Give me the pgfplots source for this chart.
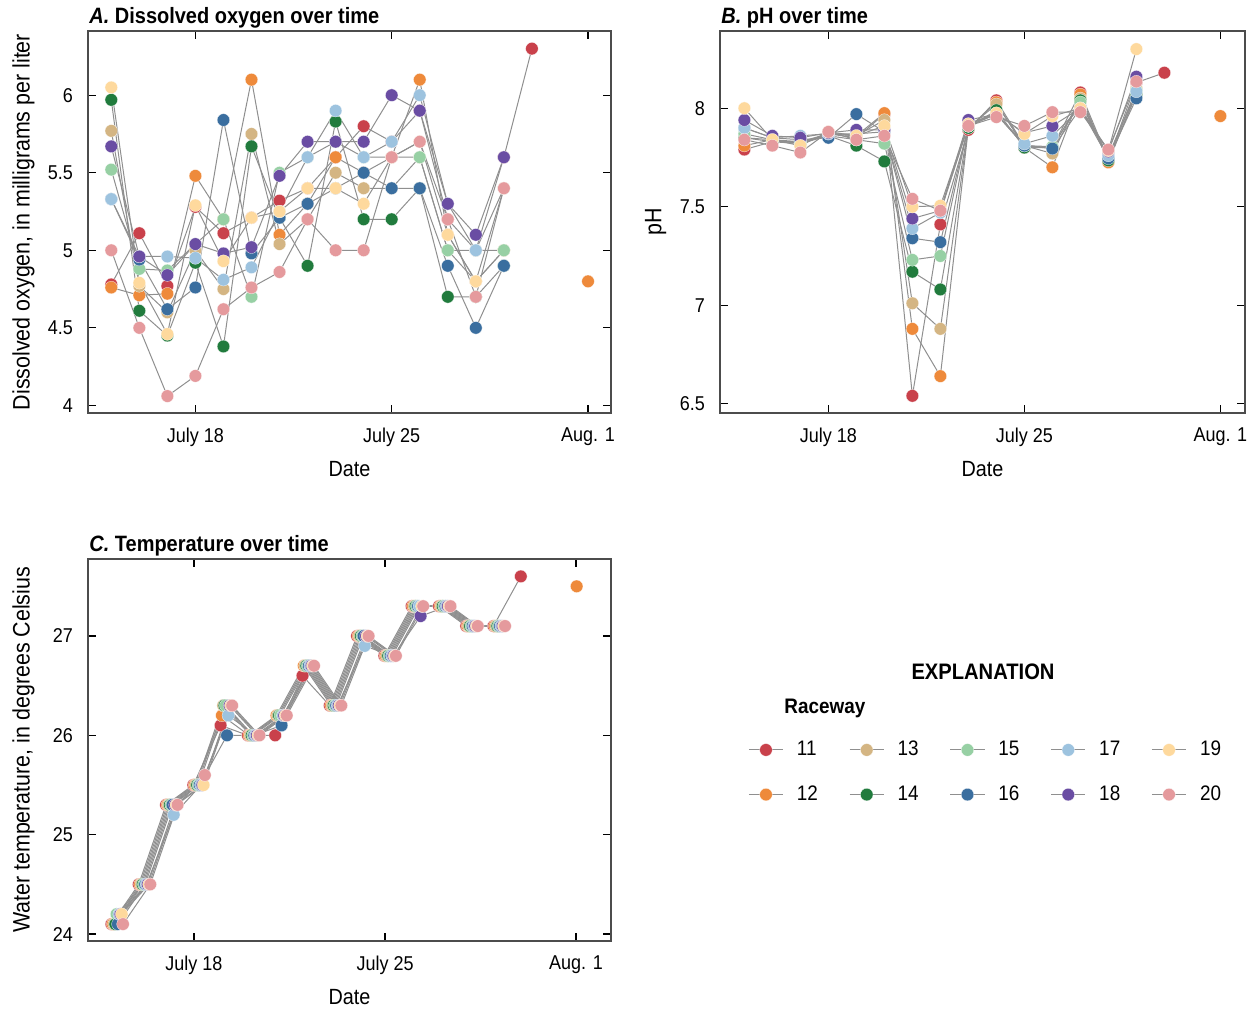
\documentclass[border=0pt]{standalone}
\usepackage{fontspec}
\setmainfont{Liberation Sans}[FakeStretch=0.9]
\usepackage{pgfplots}
\usepackage{pgfplotstable}
\pgfplotsset{compat=1.18}

\definecolor{c11}{HTML}{C9414B}
\definecolor{c12}{HTML}{EE8A3B}
\definecolor{c13}{HTML}{D4B583}
\definecolor{c14}{HTML}{217B3D}
\definecolor{c15}{HTML}{97D0A4}
\definecolor{c16}{HTML}{3A6E9F}
\definecolor{c17}{HTML}{9DC3DF}
\definecolor{c18}{HTML}{6A4DA3}
\definecolor{c19}{HTML}{FED99D}
\definecolor{c20}{HTML}{E59A9D}
\definecolor{lg}{HTML}{8F8F8F}

% Dissolved oxygen (mg/L)
\pgfplotstableread{
day r11 r12 r13 r14 r15 r16 r17 r18 r19 r20
15 4.78 4.76 5.77 5.97 5.52 5.33 5.33 5.67 6.05 5.00
16 5.11 4.71 4.77 4.61 4.88 4.94 4.96 4.96 4.79 4.50
17 4.77 4.72 4.60 4.45 4.87 4.62 4.96 4.84 4.46 4.06
18 5.28 5.48 5.00 4.92 5.04 4.76 4.95 5.04 5.29 4.19
19 5.11 5.20 4.75 4.38 5.20 5.84 4.81 4.98 4.93 4.62
20 5.21 6.10 5.75 5.67 4.70 4.98 4.89 5.02 5.21 4.76
21 5.32 5.10 5.04 5.21 5.50 5.21 5.25 5.48 5.25 4.86
22 5.40 5.30 5.20 4.90 5.60 5.30 5.60 5.70 5.40 5.20
23 5.60 5.60 5.50 5.83 5.70 5.40 5.90 5.70 5.40 5.00
24 5.80 5.50 5.40 5.20 5.60 5.50 5.60 5.70 5.30 5.00
25 5.70 5.60 5.40 5.20 5.60 5.40 5.70 6.00 5.60 5.60
26 5.90 6.10 5.60 5.40 5.60 5.40 6.00 5.90 5.70 5.70
27 5.20 5.10 5.00 4.70 5.00 4.90 5.30 5.30 5.10 5.20
28 5.00 4.80 4.80 4.70 5.00 4.50 5.00 5.10 4.80 4.70
29 5.60 5.00 5.00 4.90 5.00 4.90 5.40 5.60 5.40 5.40
30 6.30 nan nan nan nan nan nan nan nan nan
}\dataA

% pH
\pgfplotstableread{
day r11 r12 r13 r14 r15 r16 r17 r18 r19 r20
15 7.79 7.81 7.85 7.85 7.87 7.90 7.90 7.94 8.00 7.84
16 7.83 7.84 7.84 7.83 7.84 7.85 7.85 7.86 7.84 7.81
17 7.83 7.82 7.82 7.82 7.83 7.84 7.86 7.85 7.81 7.775
18 7.87 7.87 7.87 7.86 7.86 7.85 7.87 7.875 7.88 7.88
19 7.85 7.86 7.86 7.81 7.84 7.97 7.87 7.89 7.86 7.84
20 7.97 7.975 7.94 7.73 7.82 7.88 7.88 7.89 7.91 7.86
21 6.54 6.88 7.01 7.17 7.23 7.34 7.39 7.44 7.50 7.54
22 7.41 6.64 6.88 7.08 7.25 7.32 7.47 7.48 7.505 7.48
23 7.89 7.90 7.90 7.90 7.91 7.91 7.92 7.94 7.92 7.91
24 8.04 8.03 8.02 7.99 7.97 7.97 7.97 7.97 7.975 7.955
25 7.81 7.80 7.81 7.80 7.81 7.81 7.82 7.875 7.87 7.91
26 7.80 7.70 7.77 7.80 7.805 7.795 7.86 7.91 7.96 7.98
27 8.08 8.07 8.05 8.04 8.03 8.00 8.00 8.00 8.00 7.98
28 7.74 7.725 7.74 7.735 7.75 7.745 7.76 7.78 7.785 7.79
29 8.13 8.08 8.10 8.07 8.09 8.05 8.085 8.16 8.30 8.135
30 8.18 nan nan nan nan nan nan nan nan nan
}\dataB

% Water temperature (deg C)
\pgfplotstableread{
day r11 r12 r13 r14 r15 r16 r17 r18 r19 r20
15 24.1 24.1 24.1 24.1 24.2 24.1 24.2 24.2 24.2 24.1
16 24.5 24.5 24.5 24.5 24.5 24.5 24.5 24.5 24.5 24.5
17 25.3 25.3 25.3 25.3 25.3 25.3 25.2 25.3 25.3 25.3
18 25.5 25.5 25.5 25.5 25.5 25.5 25.5 25.5 25.5 25.6
19 26.1 26.2 26.3 26.3 26.3 26.0 26.2 26.3 26.3 26.3
20 26.0 26.0 26.0 26.0 26.0 26.0 26.0 26.0 26.0 26.0
21 26.0 26.2 26.2 26.2 26.2 26.1 26.2 26.2 26.2 26.2
22 26.6 26.7 26.7 26.7 26.7 26.7 26.7 26.7 26.7 26.7
23 26.3 26.3 26.3 26.3 26.3 26.3 26.3 26.3 26.3 26.3
24 27.0 27.0 27.0 27.0 27.0 27.0 26.9 27.0 27.0 27.0
25 26.8 26.8 26.8 26.8 26.8 26.8 26.8 26.8 26.8 26.8
26 27.3 27.3 27.3 27.3 27.3 27.3 27.3 27.2 27.3 27.3
27 27.3 27.3 27.3 27.3 27.3 27.3 27.3 27.3 27.3 27.3
28 27.1 27.1 27.1 27.1 27.1 27.1 27.1 27.1 27.1 27.1
29 27.1 27.1 27.1 27.1 27.1 27.1 27.1 27.1 27.1 27.1
30 27.6 nan nan nan nan nan nan nan nan nan
}\dataC

\pgfplotsset{
  panel/.style={
    scale only axis, height=191pt, anchor=south west,
    axis line style={draw=black!70, line width=0.9pt},
    major tick style={black, line width=0.6pt},
    major tick length=4pt,
    tick align=inside,
    xtick={18,25,32}, xticklabels={July 18, July 25, Aug. 1},
    /pgf/number format/assume math mode=true,
    tick label style={font=\fontsize{10}{12}\selectfont},
    xticklabel style={yshift=-4pt},
    yticklabel style={xshift=-4pt},
    xlabel style={font=\fontsize{11}{13}\selectfont},
    ylabel style={font=\fontsize{11.9}{14}\selectfont},
    xlabel={Date},
    xlabel style={at={(axis description cs:0.5,0)}, anchor=north, yshift=-20.5pt},
    ylabel style={at={(axis description cs:-0.0886,0.5)}, anchor=south, rotate=0},
    title style={at={(axis description cs:0,1)}, anchor=base west, inner sep=0pt, yshift=-2.5pt, xshift=0.5pt, font=\fontsize{11.1}{13}\selectfont\bfseries},
  },
  ln/.style={lg, line width=0.5pt, no marks},
  mk/.style={only marks, mark=*, mark size=3.15pt, mark options={fill=#1, draw=white, line width=0.12pt}},
  legimg/.style={lg, line width=0.5pt, mark=*, mark size=3.15pt, mark options={fill=#1, draw=white, line width=0.12pt}},
}

\begin{document}
\begin{tikzpicture}
% ---------- A ----------
\begin{axis}[panel, at={(44pt,298.5pt)}, width=261.5pt,
  xmin=14.17, xmax=32.82, ymin=3.951, ymax=6.414,
  ytick={4,4.5,5,5.5,6},
  ylabel={Dissolved oxygen, in milligrams per liter},
  title={\textit{A.} Dissolved oxygen over time}]
\pgfplotsinvokeforeach{11,...,20}{\addplot[ln] table[x=day,y=r#1]{\dataA};}
\pgfplotsinvokeforeach{11,...,20}{\addplot[mk=c#1] table[x=day,y=r#1]{\dataA};}
\addplot[mk=c12] coordinates {(32,4.8)};
\end{axis}
% ---------- B ----------
\begin{axis}[panel, at={(360pt,298.5pt)}, width=262.5pt,
  xmin=14.13, xmax=32.88, ymin=6.453, ymax=8.392,
  ytick={6.5,7,7.5,8},
  ylabel={pH},
  title={\textit{B.} pH over time}]
\pgfplotsinvokeforeach{11,...,20}{\addplot[ln] table[x=day,y=r#1]{\dataB};}
\pgfplotsinvokeforeach{11,...,20}{\addplot[mk=c#1] table[x=day,y=r#1]{\dataB};}
\addplot[mk=c12] coordinates {(32,7.96)};
\end{axis}
% ---------- C ----------
\begin{axis}[panel, at={(44pt,34.5pt)}, width=261.5pt,
  xmin=14.116, xmax=33.28, ymin=23.93, ymax=27.775,
  ytick={24,25,26,27},
  ylabel={Water temperature, in degrees Celsius},
  title={\textit{C.} Temperature over time}]
\pgfplotsinvokeforeach{11,...,20}{\addplot[ln] table[x expr=\thisrow{day}-0.025+0.047*(#1-11),y=r#1]{\dataC};}
\pgfplotsinvokeforeach{11,...,20}{\addplot[mk=c#1] table[x expr=\thisrow{day}-0.025+0.047*(#1-11),y=r#1]{\dataC};}
\addplot[mk=c12] coordinates {(32.022,27.5)};
\end{axis}
% ---------- Explanation ----------
\begin{axis}[at={(0pt,0pt)}, anchor=south west, scale only axis,
  width=625.5pt, height=505pt, xmin=0, xmax=1251, ymin=0, ymax=1010,
  hide axis, legend columns=5, legend cell align=left,
  legend style={at={(axis description cs:0.59792,0.26663)}, anchor=north west,
    draw=none, fill=none, inner sep=0pt, row sep=13.5pt,
    font=\fontsize{10.5}{12}\selectfont, nodes={inner sep=0pt},
    /tikz/every odd column/.append style={column sep=6.7pt},
    /tikz/every even column/.append style={column sep=15.6pt}}]
\addplot[draw=none, forget plot] coordinates {(0,0)};
\addlegendimage{legimg=c11}\addlegendentry{11}
\addlegendimage{legimg=c13}\addlegendentry{13}
\addlegendimage{legimg=c15}\addlegendentry{15}
\addlegendimage{legimg=c17}\addlegendentry{17}
\addlegendimage{legimg=c19}\addlegendentry{19}
\addlegendimage{legimg=c12}\addlegendentry{12}
\addlegendimage{legimg=c14}\addlegendentry{14}
\addlegendimage{legimg=c16}\addlegendentry{16}
\addlegendimage{legimg=c18}\addlegendentry{18}
\addlegendimage{legimg=c20}\addlegendentry{20}
\node[anchor=base, inner sep=0pt, font=\fontsize{11.2}{13}\selectfont\bfseries] at (axis cs:983,330.7) {EXPLANATION};
\node[anchor=base west, inner sep=0pt, font=\fontsize{10.5}{12}\selectfont\bfseries] at (axis cs:784,296.7) {Raceway};
\end{axis}
\pgfresetboundingbox
\path (0pt,0pt) rectangle (625.5pt,505pt);
\end{tikzpicture}
\end{document}
